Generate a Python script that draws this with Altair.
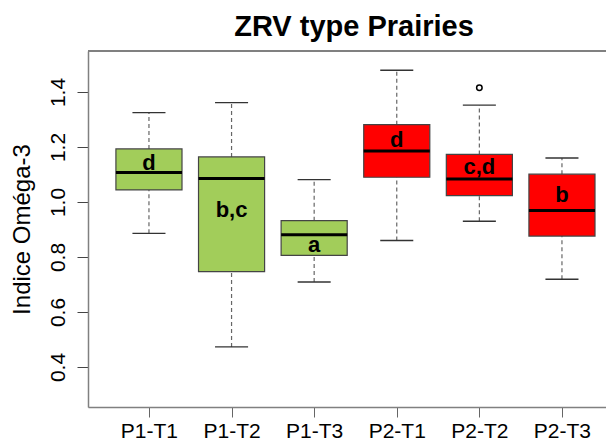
import altair as alt
import pandas as pd

groups = ["P1-T1", "P1-T2", "P1-T3", "P2-T1", "P2-T2", "P2-T3"]
positions = [1, 2, 3, 4, 5, 6]
lower = [0.886, 0.473, 0.709, 0.860, 0.930, 0.719]
q1 = [1.044, 0.747, 0.806, 1.090, 1.023, 0.876]
median = [1.107, 1.085, 0.881, 1.185, 1.084, 0.969]
q3 = [1.193, 1.164, 0.932, 1.281, 1.173, 1.101]
upper = [1.325, 1.361, 1.081, 1.479, 1.352, 1.160]
letters = ["d", "b,c", "a", "d", "c,d", "b"]
letter_y = [1.118, 0.945, 0.818, 1.200, 1.101, 1.000]
fills = ["#A2CD5A", "#A2CD5A", "#A2CD5A", "#FF0000", "#FF0000", "#FF0000"]

outlier_group = [5]
outlier_value = [1.415]

df = pd.DataFrame({
    "group": groups, "pos": positions, "lower": lower, "q1": q1,
    "median": median, "q3": q3, "upper": upper,
    "letter": letters, "ly": letter_y, "fill": fills,
})
out_df = pd.DataFrame({"pos": outlier_group, "value": outlier_value})

FONT = "Liberation Sans"
W, H = 526, 356
xdom = [0.262, 0.262 + W / 82.6]
ydom = [0.2545, 1.549]

label_expr = "{" + ",".join(f"'{p}':'{g}'" for p, g in zip(positions, groups)) + "}[datum.value]"

xs = alt.Scale(domain=xdom, nice=False, zero=False)
ys = alt.Scale(domain=ydom, nice=False, zero=False)

base = alt.Chart(df).transform_calculate(
    bl="datum.pos - 0.4", br="datum.pos + 0.4",
    cl="datum.pos - 0.2", cr="datum.pos + 0.2",
)

x_axis = alt.Axis(
    values=positions, labelExpr=label_expr, title=None, grid=False,
    labelFont=FONT, labelFontSize=21, labelColor="#000000",
    tickSize=10, tickColor="#666666", domainColor="#808080", domainWidth=1.5,
    labelPadding=3, labelFlush=False,
)
y_axis = alt.Axis(
    values=[0.4, 0.6, 0.8, 1.0, 1.2, 1.4], format=".1f", grid=False,
    title="Indice Oméga-3", titleFont=FONT, titleFontSize=24,
    titleFontWeight="normal", titleColor="#000000",
    titleX=-59, titleY=H / 2, titleAngle=270, titleAlign="center",
    titleBaseline="alphabetic",
    labelFont=FONT, labelFontSize=21, labelColor="#000000",
    labelAngle=270, labelAlign="center", labelBaseline="bottom",
    labelPadding=9, tickSize=11, tickColor="#444444",
    domainColor="#808080", domainWidth=1.5,
)

whisk_up = base.mark_rule(color="#666666", strokeDash=[4, 3], strokeWidth=1.2).encode(
    x=alt.X("pos:Q", scale=xs, axis=x_axis),
    y=alt.Y("q3:Q", scale=ys, axis=y_axis),
    y2="upper:Q",
)
whisk_lo = base.mark_rule(color="#666666", strokeDash=[4, 3], strokeWidth=1.2).encode(
    x=alt.X("pos:Q", scale=xs), y=alt.Y("lower:Q", scale=ys), y2="q1:Q",
)
cap_up = base.mark_rule(color="#333333", strokeWidth=1.3).encode(
    x=alt.X("cl:Q", scale=xs), x2="cr:Q", y=alt.Y("upper:Q", scale=ys),
)
cap_lo = base.mark_rule(color="#333333", strokeWidth=1.3).encode(
    x=alt.X("cl:Q", scale=xs), x2="cr:Q", y=alt.Y("lower:Q", scale=ys),
)
boxes = base.mark_rect(stroke="#444444", strokeWidth=1.2).encode(
    x=alt.X("bl:Q", scale=xs), x2="br:Q",
    y=alt.Y("q1:Q", scale=ys), y2="q3:Q",
    fill=alt.Fill("fill:N", scale=None),
)
medians = base.mark_rule(color="#000000", strokeWidth=3).encode(
    x=alt.X("bl:Q", scale=xs), x2="br:Q", y=alt.Y("median:Q", scale=ys),
)
texts = base.mark_text(font=FONT, fontSize=22, fontWeight="bold", color="#000000",
                       baseline="alphabetic", align="center").encode(
    x=alt.X("pos:Q", scale=xs), y=alt.Y("ly:Q", scale=ys), text="letter:N",
)
outliers = alt.Chart(out_df).mark_point(shape="circle", filled=False, color="#000000",
                                        size=30, strokeWidth=1.5, opacity=1).encode(
    x=alt.X("pos:Q", scale=xs), y=alt.Y("value:Q", scale=ys),
)
top_frame = alt.Chart(df).mark_rule(color="#808080", strokeWidth=1.5).encode(
    x=alt.value(0), x2=alt.value(W), y=alt.value(0),
)

chart = alt.layer(
    whisk_up, whisk_lo, cap_up, cap_lo, boxes, medians, texts, outliers, top_frame
).properties(
    width=W, height=H,
    title=alt.TitleParams("ZRV type Prairies", font=FONT, fontSize=29,
                          fontWeight="bold", color="#000000", anchor="middle",
                          offset=8, dx=3),
    autosize=alt.AutoSizeParams(type="none"),
    padding={"left": 80, "top": 43, "right": -8, "bottom": 33},
).configure_view(
    stroke="transparent", strokeWidth=0, strokeOpacity=0
).configure(background="#ffffff")

chart.save("out.html", embed_options={"renderer": "svg", "actions": False})
